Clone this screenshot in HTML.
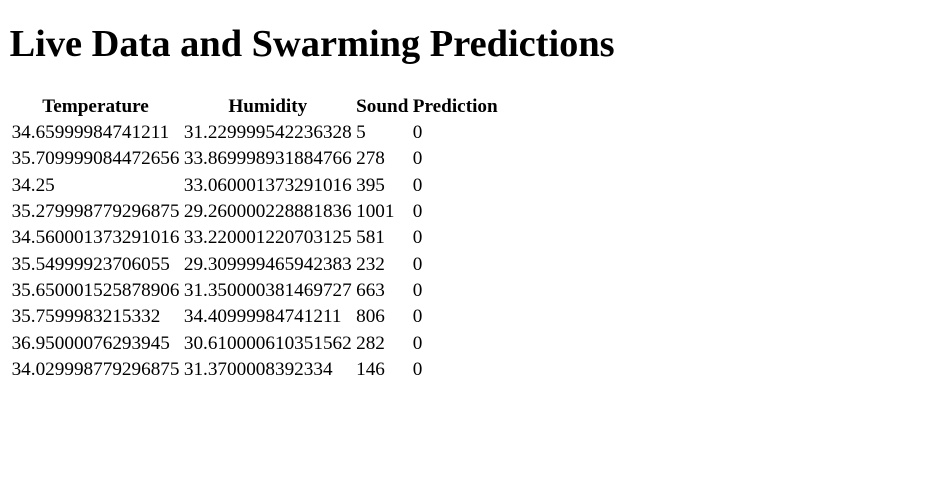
<!DOCTYPE html>
<html>
<head>
<meta charset="utf-8">
<style>
  html, body { margin: 0; padding: 0; background: #fff; }
  body { width: 939px; height: 470px; overflow: hidden; }
  .wrap { zoom: 1.2; margin: 0 0 0 7px; font-family: "Liberation Serif", serif; font-size: 16px; color: #000; }
  h1 { font-size: 32px; font-weight: bold; margin: 18px 0 22px 1px; line-height: 37px; }
  table { border-spacing: 2px; }
  th, td { padding: 1px; line-height: 18.3px; }
  th { font-weight: bold; text-align: center; }
  td { text-align: left; }
</style>
</head>
<body>
<div class="wrap">
<h1>Live Data and Swarming Predictions</h1>
<table>
  <thead>
    <tr>
      <th>Temperature</th>
      <th>Humidity</th>
      <th>Sound</th>
      <th>Prediction</th>
    </tr>
  </thead>
  <tbody>
    <tr><td>34.65999984741211</td><td>31.229999542236328</td><td>5</td><td>0</td></tr>
    <tr><td>35.709999084472656</td><td>33.869998931884766</td><td>278</td><td>0</td></tr>
    <tr><td>34.25</td><td>33.060001373291016</td><td>395</td><td>0</td></tr>
    <tr><td>35.279998779296875</td><td>29.260000228881836</td><td>1001</td><td>0</td></tr>
    <tr><td>34.560001373291016</td><td>33.220001220703125</td><td>581</td><td>0</td></tr>
    <tr><td>35.54999923706055</td><td>29.309999465942383</td><td>232</td><td>0</td></tr>
    <tr><td>35.650001525878906</td><td>31.350000381469727</td><td>663</td><td>0</td></tr>
    <tr><td>35.7599983215332</td><td>34.40999984741211</td><td>806</td><td>0</td></tr>
    <tr><td>36.95000076293945</td><td>30.610000610351562</td><td>282</td><td>0</td></tr>
    <tr><td>34.029998779296875</td><td>31.3700008392334</td><td>146</td><td>0</td></tr>
  </tbody>
</table>
</div>
</body>
</html>
